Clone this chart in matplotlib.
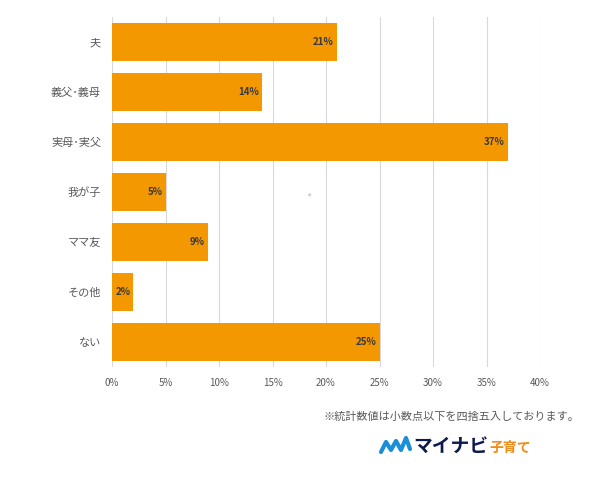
import matplotlib
matplotlib.use("Agg")
import matplotlib.pyplot as plt
from matplotlib.lines import Line2D

plt.rcParams['font.family'] = ['Noto Sans CJK JP', 'DejaVu Sans']

categories = ["夫", "義父･義母", "実母･実父", "我が子", "ママ友", "その他", "ない"]
values = [21, 14, 37, 5, 9, 2, 25]
xticks = [0, 5, 10, 15, 20, 25, 30, 35, 40]
xticklabels = ["0%", "5%", "10%", "15%", "20%", "25%", "30%", "35%", "40%"]

fig = plt.figure(figsize=(6, 4.8), dpi=100)
ax = fig.add_axes([0.1867, 0.2354, 0.7133, 0.729])

bar_color = "#F39800"
ypos = list(range(len(categories)))
ax.barh(ypos, values, height=0.76, color=bar_color, zorder=3)
for y, v in zip(ypos, values):
    ax.text(v - 0.3, y, f"{v}%", ha="right", va="center", fontsize=7,
            fontweight="bold", color="#3a3a3a", zorder=4)

ax.set_xlim(0, 40)
ax.set_ylim(len(categories) - 0.5, -0.5)
ax.set_yticks(ypos)
ax.set_yticklabels(categories, fontsize=8, color="#595959")
ax.set_xticks(xticks)
ax.set_xticklabels(xticklabels, fontsize=7, color="#595959")
ax.tick_params(axis="both", length=0, pad=8)
ax.tick_params(axis="y", pad=8)
ax.grid(axis="x", color="#d9d9d9", linewidth=0.8, zorder=0)
for s in ax.spines.values():
    s.set_visible(False)

# stray small mark
fig.text(309 / 600, 1 - 197 / 480, "*", fontsize=8, color="#c0c0c0", ha="center", va="center")

# footnote
fig.text(579 / 600, 1 - 417 / 480, "※統計数値は小数点以下を四捨五入しております。",
         fontsize=8, color="#595959", ha="right", va="center")

# logo
lx = [381, 386, 391, 396, 401, 406, 410]
ly = [452, 442, 450, 441, 450, 438, 449]
fig.add_artist(Line2D([x / 600 for x in lx], [1 - y / 480 for y in ly],
                      transform=fig.transFigure, color="#1a8ed6", linewidth=3,
                      solid_capstyle="round", solid_joinstyle="round"))
fig.text(413 / 600, 1 - 446 / 480, "マイナビ", fontsize=13.5, fontweight="bold",
         color="#0d1b4c", ha="left", va="center")
fig.text(489 / 600, 1 - 448 / 480, "子育て", fontsize=10, fontweight="bold",
         color="#f08c1a", ha="left", va="center")

fig.savefig("out.png", dpi=100)
